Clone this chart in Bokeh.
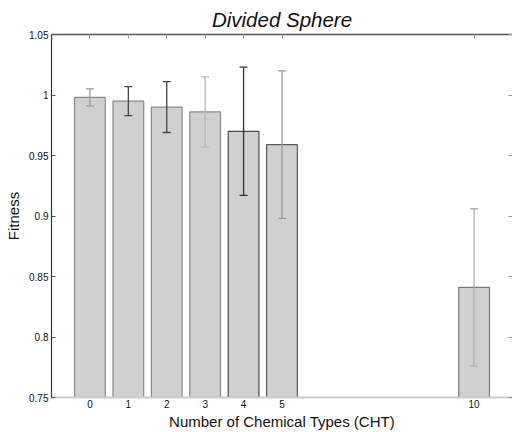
from bokeh.plotting import figure
from bokeh.models import ColumnDataSource, Whisker, TeeHead, LinearAxis, FixedTicker, Range1d
from bokeh.embed import file_html
from bokeh.resources import INLINE

# ---- data ----
cht = [0, 1, 2, 3, 4, 5, 10]
fitness = [0.998, 0.995, 0.990, 0.986, 0.970, 0.959, 0.841]
err = [0.007, 0.012, 0.021, 0.029, 0.053, 0.061, 0.065]
y_ticks = [0.75, 0.8, 0.85, 0.9, 0.95, 1.0, 1.05]
y_tick_labels = ["0.75", "0.8", "0.85", "0.9", "0.95", "1", "1.05"]
x_tick_labels = ["0", "1", "2", "3", "4", "5", "10"]

# ---- styles ----
bar_line_colors = ["#8a8a8a", "#8a8a8a", "#8a8a8a", "#8a8a8a", "#4a4a4a", "#5a5a5a", "#7a7a7a"]
err_colors = ["#9a9a9a", "#444444", "#444444", "#b8b8b8", "#333333", "#999999", "#b0b0b0"]

src = ColumnDataSource(dict(
    x=cht, top=fitness,
    upper=[f + e for f, e in zip(fitness, err)],
    lower=[f - e for f, e in zip(fitness, err)],
    lc=bar_line_colors, ec=err_colors,
))

FONT = "Liberation Sans"

p = figure(frame_width=461, frame_height=363, output_backend="svg", toolbar_location=None,
           x_range=Range1d(-1, 11), y_range=Range1d(0.75, 1.05),
           min_border_left=51, min_border_right=0, min_border_top=34, min_border_bottom=0,
           title="Divided Sphere")
p.title.text_font = FONT
p.title.text_font_style = "italic"
p.title.text_font_size = "20.5px"
p.title.align = "center"
p.title.text_color = "#111111"
p.title.standoff = 8

p.grid.visible = False
p.outline_line_color = None
p.background_fill_color = "white"

p.vbar(x="x", top="top", bottom=0.75, width=0.8, source=src,
       fill_color="#d0d0d0", line_color="lc", line_width=1.2)

w = Whisker(base="x", upper="upper", lower="lower", source=src, level="annotation",
            line_color="ec", line_width=1.3,
            upper_head=TeeHead(size=8, line_color="ec", line_width=1.3),
            lower_head=TeeHead(size=8, line_color="ec", line_width=1.3))
p.add_layout(w)

xticker = FixedTicker(ticks=cht)
yticker = FixedTicker(ticks=y_ticks)
xover = {c: l for c, l in zip(cht, x_tick_labels)}
yover = {t: l for t, l in zip(y_ticks, y_tick_labels)}

xa = p.xaxis[0]
xa.ticker = xticker
xa.major_label_overrides = xover
xa.axis_line_color = "#cccccc"
xa.axis_line_width = 2
xa.major_tick_in = 0
xa.major_tick_out = 0
xa.major_tick_line_color = None
xa.minor_tick_line_color = None
xa.major_label_text_font = FONT
xa.major_label_text_font_size = "10px"
xa.major_label_text_color = "#111111"
xa.major_label_standoff = 2
xa.axis_label = "Number of Chemical Types (CHT)"
xa.axis_label_text_font = FONT
xa.axis_label_text_font_size = "15px"
xa.axis_label_text_font_style = "normal"
xa.axis_label_text_color = "#111111"
xa.axis_label_standoff = 2

ya = p.yaxis[0]
ya.ticker = yticker
ya.major_label_overrides = yover
ya.axis_line_color = "#333333"
ya.axis_line_width = 1.2
ya.major_tick_in = 4
ya.major_tick_out = 0
ya.major_tick_line_color = "#555555"
ya.minor_tick_line_color = None
ya.major_label_text_font = FONT
ya.major_label_text_font_size = "10px"
ya.major_label_text_color = "#111111"
ya.major_label_standoff = 3
ya.axis_label = "Fitness"
ya.axis_label_text_font = FONT
ya.axis_label_text_font_size = "15px"
ya.axis_label_text_font_style = "normal"
ya.axis_label_text_color = "#111111"
ya.axis_label_standoff = 4

top_ax = LinearAxis(ticker=xticker, major_label_overrides={c: "" for c in cht},
                    axis_line_color="#555555", axis_line_width=1.5,
                    major_tick_in=4, major_tick_out=0, major_tick_line_color="#999999",
                    minor_tick_line_color=None, major_label_text_font_size="0px",
                    major_label_standoff=0)
p.add_layout(top_ax, "above")

right_ax = LinearAxis(ticker=yticker, major_label_overrides={t: "" for t in y_ticks},
                      axis_line_color=None,
                      major_tick_in=4, major_tick_out=0, major_tick_line_color="#999999",
                      minor_tick_line_color=None, major_label_text_font_size="0px",
                      major_label_standoff=0)
p.add_layout(right_ax, "right")

open("out.html", "w").write(file_html(p, INLINE))
